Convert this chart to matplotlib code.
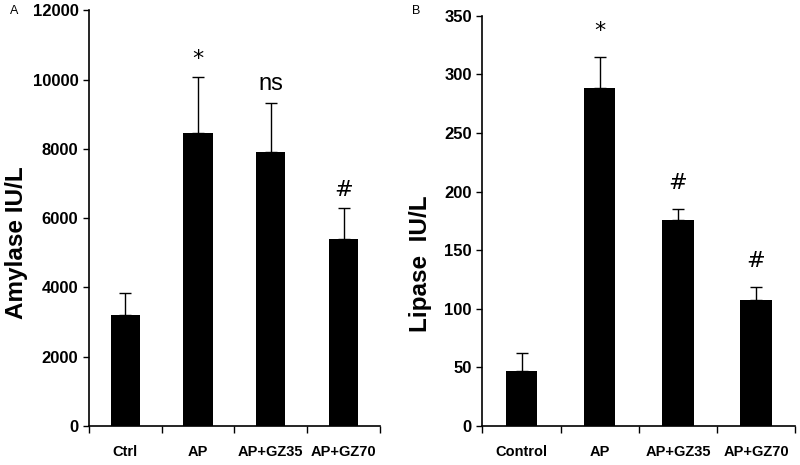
import numpy as np
import matplotlib
matplotlib.use("Agg")
import matplotlib.pyplot as plt

plt.rcParams['font.family'] = ['Liberation Sans', 'DejaVu Sans']

# panel A - amylase
amy_labels = ["Ctrl", "AP", "AP+GZ35", "AP+GZ70"]
amy_mean = [3200, 8460, 7920, 5390]
amy_sd = [650, 1600, 1390, 890]
amy_marks = ["", "*", "ns", "#"]

# panel B - lipase
lip_labels = ["Control", "AP", "AP+GZ35", "AP+GZ70"]
lip_mean = [47, 288, 176, 107.5]
lip_sd = [15.5, 26.5, 9, 11]
lip_marks = ["", "*", "#", "#"]

fig = plt.figure(figsize=(8, 4.65), dpi=100)
axA = fig.add_axes([0.111, 0.084, 0.364, 0.894])
axB = fig.add_axes([0.603, 0.084, 0.391, 0.882])


def draw(ax, labels, mean, sd, marks, ymax, step, ylabel, mark_gap, label_xy):
    x = np.arange(len(labels))
    ax.bar(x, mean, width=0.4, color="black", zorder=2)
    ax.errorbar(x, mean, yerr=[np.zeros(len(sd)), sd], fmt="none",
                ecolor="black", elinewidth=1, capsize=4, capthick=1, zorder=1)
    for xi, m, s, t in zip(x, mean, sd, marks):
        if t:
            fs = 17 if t == "ns" else 16
            ax.text(xi, m + s + mark_gap, t, ha="center", va="bottom",
                    fontsize=fs, family="DejaVu Sans" if t != "ns" else "Liberation Sans")
    ax.set_xlim(-0.5, len(labels) - 0.5)
    ax.set_ylim(0, ymax)
    ax.set_yticks(np.arange(0, ymax + 1, step))
    ax.set_xticks(x)
    ax.set_xticklabels(labels, fontsize=10.5, fontweight="bold")
    ax.set_xticks(np.arange(-0.5, len(labels), 1), minor=True)
    ax.tick_params(axis="x", which="major", length=0, pad=14)
    ax.tick_params(axis="x", which="minor", length=5, width=1)
    ax.tick_params(axis="y", length=4, width=1, labelsize=12)
    for lab in ax.get_yticklabels():
        lab.set_fontweight("bold")
    ax.spines["top"].set_visible(False)
    ax.spines["right"].set_visible(False)
    ax.spines["left"].set_linewidth(1.2)
    ax.spines["bottom"].set_linewidth(1.2)
    ax.set_ylabel(ylabel, fontsize=17.5, fontweight="bold")
    ax.yaxis.set_label_coords(*label_xy)


draw(axA, amy_labels, amy_mean, amy_sd, amy_marks, 12000, 2000, "Amylase IU/L", 250,
     (-0.21, 0.44))
draw(axB, lip_labels, lip_mean, lip_sd, lip_marks, 350, 50, "Lipase  IU/L", 14,
     (-0.16, 0.395))

fig.text(0.013, 0.99, "A", fontsize=9, va="top")
fig.text(0.515, 0.99, "B", fontsize=9, va="top")

fig.savefig("out.png", dpi=100)
